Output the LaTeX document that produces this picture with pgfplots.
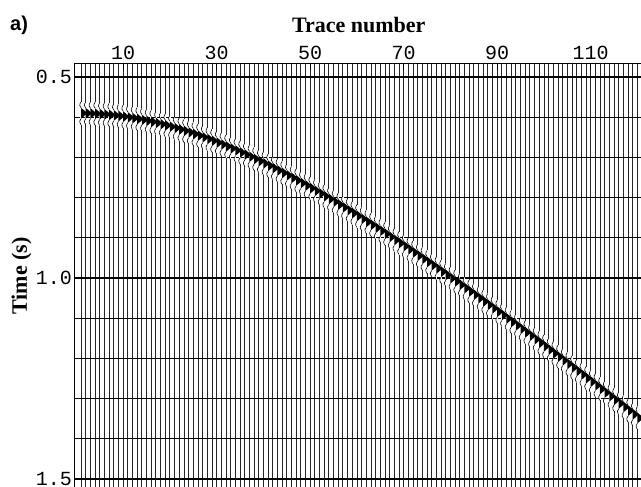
\documentclass[border=0pt]{standalone}
\usepackage{pgfplots}
\pgfplotsset{compat=1.18}
\usepackage{pgfplotstable}
\usepackage{fontspec}
\setmainfont{Liberation Serif}
\newfontfamily\monofont{Liberation Mono}
\newfontfamily\arialfont{Liberation Sans}

\pgfplotstableread{
tr t
1 0.5901
2 0.5903
3 0.5908
4 0.5914
5 0.5922
6 0.5931
7 0.5942
8 0.5955
9 0.5970
10 0.5986
11 0.6004
12 0.6023
13 0.6044
14 0.6067
15 0.6091
16 0.6117
17 0.6145
18 0.6174
19 0.6204
20 0.6236
21 0.6270
22 0.6305
23 0.6341
24 0.6379
25 0.6418
26 0.6458
27 0.6500
28 0.6543
29 0.6587
30 0.6633
31 0.6679
32 0.6727
33 0.6777
34 0.6827
35 0.6878
36 0.6931
37 0.6984
38 0.7039
39 0.7094
40 0.7151
41 0.7208
42 0.7267
43 0.7326
44 0.7387
45 0.7448
46 0.7510
47 0.7573
48 0.7637
49 0.7701
50 0.7766
51 0.7833
52 0.7899
53 0.7967
54 0.8035
55 0.8104
56 0.8174
57 0.8244
58 0.8315
59 0.8386
60 0.8458
61 0.8531
62 0.8604
63 0.8678
64 0.8752
65 0.8827
66 0.8902
67 0.8978
68 0.9055
69 0.9132
70 0.9209
71 0.9287
72 0.9365
73 0.9444
74 0.9523
75 0.9602
76 0.9682
77 0.9762
78 0.9843
79 0.9924
80 1.0005
81 1.0087
82 1.0169
83 1.0252
84 1.0335
85 1.0418
86 1.0501
87 1.0585
88 1.0669
89 1.0753
90 1.0838
91 1.0922
92 1.1008
93 1.1093
94 1.1179
95 1.1265
96 1.1351
97 1.1437
98 1.1524
99 1.1611
100 1.1698
101 1.1785
102 1.1873
103 1.1961
104 1.2049
105 1.2137
106 1.2225
107 1.2314
108 1.2402
109 1.2491
110 1.2580
111 1.2670
112 1.2759
113 1.2849
114 1.2939
115 1.3029
116 1.3119
117 1.3209
118 1.3300
119 1.3390
120 1.3481
}\eventtable

\pgfdeclareplotmark{wig}{%
  \pgfpathmoveto{\pgfqpoint{0pt}{5.4pt}}%
  \pgfpathcurveto{\pgfqpoint{2.2pt}{3.6pt}}{\pgfqpoint{5.2pt}{1.1pt}}{\pgfqpoint{6pt}{0pt}}%
  \pgfpathcurveto{\pgfqpoint{5.2pt}{-1.1pt}}{\pgfqpoint{2.2pt}{-3.6pt}}{\pgfqpoint{0pt}{-5.4pt}}%
  \pgfpathclose
  \pgfusepathqfill
  \pgfpathmoveto{\pgfqpoint{0pt}{5.4pt}}%
  \pgfpathcurveto{\pgfqpoint{-1.4pt}{6.6pt}}{\pgfqpoint{-2pt}{8.6pt}}{\pgfqpoint{0pt}{11.5pt}}%
  \pgfpathmoveto{\pgfqpoint{0pt}{-5.4pt}}%
  \pgfpathcurveto{\pgfqpoint{-1.4pt}{-6.6pt}}{\pgfqpoint{-2pt}{-8.6pt}}{\pgfqpoint{0pt}{-11.5pt}}%
  \pgfusepathqstroke
}
\pgfdeclareplotmark{wigcover}{%
  \pgfpathrectangle{\pgfqpoint{-0.7pt}{-11.5pt}}{\pgfqpoint{1.4pt}{23pt}}%
  \pgfusepathqfill
}

\begin{document}
\begin{tikzpicture}
\useasboundingbox (-74.5pt,63pt) rectangle (566.5pt,-424pt);
\begin{axis}[
  at={(0pt,0pt)}, anchor=north west, scale only axis,
  width=568.5pt, height=426pt,
  xmin=-0.4, xmax=121.2, ymin=0.4652, ymax=1.5249, y dir=reverse,
  axis on top,
  xtick={10,30,50,70,90,110}, xticklabels={10,30,50,70,90,110},
  xtick pos=right, xticklabel pos=right,
  xtick align=inside, major tick length=7pt,
  x tick style={black, line width=1pt},
  ytick={0.5,1.0,1.5}, yticklabels={0.5,1.0,1.5},
  ytick style={draw=none},
  minor ytick={0.6,0.7,0.8,0.9,1.1,1.2,1.3,1.4},
  ymajorgrids, yminorgrids,
  major grid style={black, line width=1.1pt},
  minor grid style={black, line width=1.1pt},
  axis line style={black, line width=0.9pt},
  xticklabel style={font=\monofont\fontsize{20}{20}\selectfont, inner sep=0pt, anchor=south, yshift=2.8pt},
  yticklabel style={font=\monofont\fontsize{20}{20}\selectfont, inner sep=0pt, anchor=east, xshift=-2.4pt},
  clip=true,
]
\pgfplotsinvokeforeach{1,...,120}{
  \addplot[black!85, line width=0.75pt, forget plot] coordinates {(#1,0.40) (#1,1.60)};
}
\addplot[only marks, mark=wigcover, mark options={fill=white, draw=none}, forget plot] table[x=tr,y=t]{\eventtable};
\addplot[only marks, mark=wig, mark options={fill=black, draw=black, line width=0.6pt}, forget plot] table[x=tr,y=t]{\eventtable};
\end{axis}
\node[anchor=base, inner sep=0pt, font=\bfseries\fontsize{22}{22}\selectfont] at (284.25pt,30.3pt) {Trace number};
\node[anchor=base west, inner sep=0pt, font=\arialfont\bfseries\fontsize{20}{20}\selectfont] at (-64.5pt,32pt) {a)};
\node[rotate=90, anchor=base, inner sep=0pt, font=\bfseries\fontsize{22}{22}\selectfont] at (-47.5pt,-213pt) {Time (s)};
\end{tikzpicture}
\end{document}
